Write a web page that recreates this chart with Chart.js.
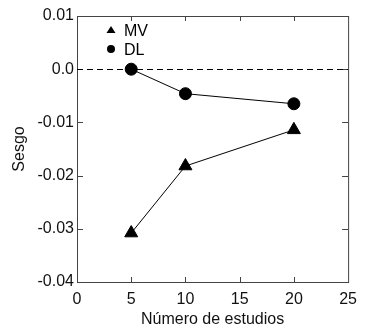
<!DOCTYPE html>
<html>
<head>
<meta charset="utf-8">
<script src="https://cdn.jsdelivr.net/npm/chart.js@4"></script>
<style>
  body { margin: 0; background: #fff; }
  #wrap { width: 365px; height: 331px; }
</style>
</head>
<body>
<div id="wrap"><canvas id="myChart" width="365" height="331"></canvas></div>
<script>
// values
const estudios = [5, 10, 20]
const sesgoMV = [-0.0308, -0.0182, -0.0114]
const sesgoDL = [0.0, -0.0046, -0.0065]
const xTicks = [0, 5, 10, 15, 20, 25]
const yTickLabels = ['-0.04', '-0.03', '-0.02', '-0.01', '0.0', '0.01']

const font = "'Liberation Sans', Arial, sans-serif"

// box, inward ticks, dashed zero line and the small legend
const extras = {
  id: 'extras',
  afterDraw(chart) {
    const c = chart.ctx
    const a = chart.chartArea
    const x = chart.scales.x
    const y = chart.scales.y
    c.save()
    c.strokeStyle = '#444'
    c.lineWidth = 1
    c.strokeRect(a.left + 0.5, a.top + 0.5, a.right - a.left, a.bottom - a.top)

    c.beginPath()
    xTicks.slice(1, -1).forEach(v => {
      let px = Math.round(x.getPixelForValue(v)) + 0.5
      c.moveTo(px, a.bottom); c.lineTo(px, a.bottom - 5)
      c.moveTo(px, a.top); c.lineTo(px, a.top + 5)
    })
    yTickLabels.slice(1, -1).forEach(t => {
      let py = Math.round(y.getPixelForValue(parseFloat(t))) + 0.5
      c.moveTo(a.left, py); c.lineTo(a.left + 6, py)
      c.moveTo(a.right, py); c.lineTo(a.right - 6, py)
    })
    c.stroke()

    let zy = Math.round(y.getPixelForValue(0)) + 0.5
    c.setLineDash([6, 4])
    c.strokeStyle = '#000'
    c.beginPath()
    c.moveTo(a.left, zy); c.lineTo(a.right, zy)
    c.stroke()
    c.setLineDash([])

    // legend
    c.fillStyle = '#000'
    c.font = '16px ' + font
    c.textBaseline = 'middle'
    let lx = a.left + 34
    c.beginPath()
    c.moveTo(lx, a.top + 10); c.lineTo(lx + 4.5, a.top + 17); c.lineTo(lx - 4.5, a.top + 17)
    c.closePath(); c.fill()
    c.fillText('MV', lx + 13, a.top + 16)
    c.beginPath()
    c.arc(lx, a.top + 33, 4, 0, Math.PI * 2)
    c.fill()
    c.fillText('DL', lx + 13, a.top + 35)
    c.restore()
  }
}

const ctx = document.getElementById('myChart')

new Chart(ctx, {
  type: 'scatter',
  data: {
    datasets: [{
      label: 'MV',
      data: estudios.map((e, i) => ({ x: e, y: sesgoMV[i] })),
      showLine: true,
      borderColor: '#000',
      borderWidth: 1,
      backgroundColor: '#000',
      pointStyle: 'triangle',
      pointRadius: 7.5,
    }, {
      label: 'DL',
      data: estudios.map((e, i) => ({ x: e, y: sesgoDL[i] })),
      showLine: true,
      borderColor: '#000',
      borderWidth: 1,
      backgroundColor: '#000',
      pointStyle: 'circle',
      pointRadius: 6,
    }]
  },
  options: {
    responsive: false,
    animation: false,
    layout: { padding: { top: 16, right: 13 } },
    plugins: {
      legend: { display: false },
      tooltip: { enabled: false }
    },
    scales: {
      x: {
        type: 'linear',
        min: 0, max: 25,
        afterFit: s => { s.height = 49 },
        afterBuildTicks: s => { s.ticks = xTicks.map(v => ({ value: v })) },
        grid: { display: false, drawTicks: false },
        border: { display: false },
        ticks: { color: '#111', font: { family: font, size: 16 }, padding: 8 },
        title: { display: true, text: 'Número de estudios', color: '#111', font: { family: font, size: 16 }, padding: { top: 0, bottom: 2 } }
      },
      y: {
        type: 'linear',
        min: -0.04, max: 0.01,
        afterFit: s => { s.width = 77 },
        afterBuildTicks: s => { s.ticks = yTickLabels.map(t => ({ value: parseFloat(t) })) },
        grid: { display: false, drawTicks: false },
        border: { display: false },
        ticks: {
          color: '#111', font: { family: font, size: 16 }, padding: 3,
          callback: (v, i) => yTickLabels[i]
        },
        title: { display: true, text: 'Sesgo', color: '#111', font: { family: font, size: 16 }, padding: { top: 10, bottom: 0 } }
      }
    }
  },
  plugins: [extras]
})
</script>
</body>
</html>
